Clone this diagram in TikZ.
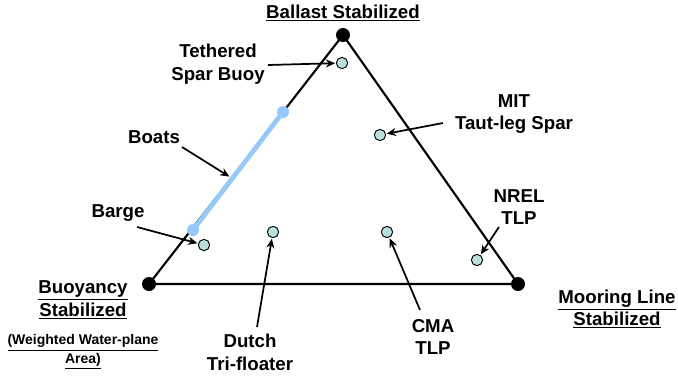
\documentclass[tikz,border=0pt]{standalone}
\usepackage{fontspec}
\setmainfont{Liberation Sans}
\usetikzlibrary{arrows.meta}
\definecolor{boatblue}{RGB}{150,200,250}
\definecolor{dotfill}{RGB}{185,222,222}
\tikzset{
  lbl/.style={font=\bfseries\fontsize{14}{17}\selectfont, align=center, inner sep=0pt},
  small/.style={font=\bfseries\fontsize{10.5}{14}\selectfont, align=center, inner sep=0pt},
  vertex/.style={circle, fill=black, inner sep=0pt, minimum size=10.5pt},
  pt/.style={circle, draw=black, line width=0.7pt, fill=dotfill, inner sep=0pt, minimum size=8.5pt},
  bdot/.style={circle, fill=boatblue, inner sep=0pt, minimum size=9pt},
  arr/.style={-{Stealth[length=7pt,width=6pt]}, line width=1.3pt, shorten >=0.5pt},
  edge/.style={line width=1.6pt}
}
\begin{document}
\begin{tikzpicture}[x=0.75pt, y=-0.75pt]
\useasboundingbox (0,0) rectangle (678,376);
% vertices
\node[vertex] (top) at (343,35) {};
\node[vertex] (bl) at (149,284) {};
\node[vertex] (br) at (518,284) {};
\draw[edge] (top.center) -- (bl.center) -- (br.center) -- cycle;
% boats line
\node[bdot] (b1) at (193,230) {};
\node[bdot] (b2) at (283,112) {};
\draw[boatblue, line width=3.5pt] (b1.center) -- (b2.center);
\coordinate (boatpt) at (230,177);
% data points
\node[pt] (teth) at (342,63) {};
\node[pt] (mit) at (380,135) {};
\node[pt] (barge) at (204,245) {};
\node[pt] (dutch) at (273,232) {};
\node[pt] (cma) at (387,232) {};
\node[pt] (nrel) at (477,260) {};
% labels
\node[lbl] (tb) at (343,13) {\underline{Ballast Stabilized}};
\node[lbl] (tl) at (218,64) {Tethered\\Spar Buoy};
\node[lbl] (ml) at (514,114) {MIT\\Taut-leg Spar};
\node[lbl] (bo) at (154,137) {Boats};
\node[lbl] (ba) at (118,213) {Barge};
\node[lbl] (nl) at (519,207) {NREL\\TLP};
\node[lbl] (by) at (83,300) {\underline{Buoyancy}\\\underline{Stabilized}};
\node[small] (ww) at (83,352) {\underline{(Weighted Water-plane}\\\underline{Area)}};
\node[lbl] (du) at (250,352) {Dutch\\Tri-floater};
\node[lbl] (cm) at (433,337) {CMA\\TLP};
\node[lbl] (mo) at (617,309) {\underline{Mooring Line}\\\underline{Stabilized}};
% arrows
\coordinate (s1) at (268,65);
\coordinate (s2) at (443,123);
\coordinate (s3) at (182,147);
\coordinate (s4) at (137,227);
\coordinate (s5) at (257,327);
\coordinate (s6) at (420,310);
\coordinate (s7) at (499,227);
\draw[arr] (s1) -- (teth);
\draw[arr] (s2) -- (mit);
\draw[arr] (s3) -- (boatpt);
\draw[arr] (s4) -- (barge);
\draw[arr] (s5) -- (dutch);
\draw[arr] (s6) -- (cma);
\draw[arr] (s7) -- (nrel);
\end{tikzpicture}
\end{document}
